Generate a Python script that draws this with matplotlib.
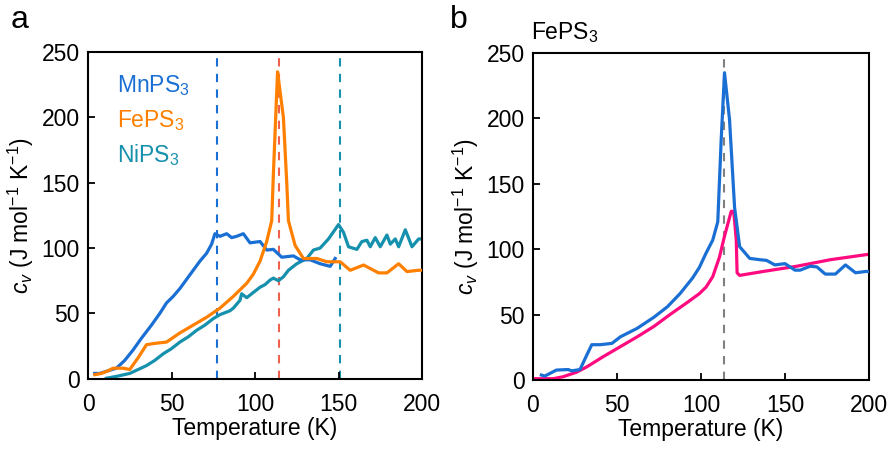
import matplotlib
matplotlib.use("Agg")
import matplotlib.pyplot as plt

plt.rcParams['font.family'] = ['Liberation Sans', 'DejaVu Sans']
plt.rcParams['mathtext.fontset'] = 'custom'
plt.rcParams['mathtext.rm'] = 'Liberation Sans'
plt.rcParams['mathtext.it'] = 'Liberation Sans:italic'
plt.rcParams['mathtext.bf'] = 'Liberation Sans:bold'

# Panel a data
mn_T = [4, 7, 12, 17, 22, 27, 32, 38, 43, 47, 51, 55, 59, 63, 67, 71, 74, 76, 79, 83, 86, 89, 93, 97, 103, 107, 111, 116, 123, 127, 133, 139, 145, 148]
mn_cv = [4, 4, 6, 8, 14, 22, 31, 41, 50, 58, 63, 69, 76, 83, 90, 96, 103, 111, 109, 111, 108, 109, 111, 104, 105, 98.5, 99, 93, 94, 91, 91, 88, 86, 92]

fe_T = [4, 8, 12, 15, 21, 25, 30, 35, 40, 47, 55, 63, 71, 79, 87, 95, 99, 103, 107, 110, 111, 113.5, 114.5, 117, 119, 120, 124, 129, 137, 143, 151, 157, 165, 174, 179, 186, 191, 198, 200]
fe_cv = [3, 4, 6, 8, 8, 7, 16, 26, 27, 28, 35, 41, 47, 54, 63, 73, 80, 90, 105, 121, 157, 235, 225, 200, 150, 121, 102, 92, 92, 89.5, 89.5, 83, 87, 81, 81, 88, 82, 83, 83]

ni_T = [11, 18, 25, 30, 35, 40, 45, 50, 55, 60, 65, 70, 75, 79, 85, 87, 91, 92, 95, 99, 103, 106, 109, 111, 114, 117, 120, 125, 131, 135, 139, 144, 150, 153, 156, 161, 164, 167, 169, 172, 175, 179, 181, 184, 186, 190, 194, 198, 200]
ni_cv = [0.3, 2, 4, 7, 10, 14, 19, 23, 28, 32, 37, 41, 46, 49, 52, 54, 60, 65, 62, 66, 70, 72, 75.5, 77, 75, 78, 83, 88, 92, 98.5, 100, 107, 118, 112, 101, 99, 105, 106, 101, 108, 101, 110, 103, 107, 101, 114, 101, 107, 107]

transitions_a = [77, 114.6, 151]

# Panel b data
b_blue_T = [5, 7, 14, 21, 23, 28, 32, 35, 40, 47, 52, 62, 72, 80, 87.5, 95, 99, 103, 107, 110, 112, 114, 117, 120, 123, 129, 135, 139, 144, 150, 156, 159, 165, 169, 174, 180, 186, 192, 198, 200]
b_blue_cv = [3.8, 3, 7.6, 8, 7, 8, 19, 27, 27, 28, 33, 39.5, 48, 56, 66, 78, 86, 97, 107, 121, 183, 235, 199, 132, 102, 93, 92, 91.5, 88, 89, 84, 84, 87, 86.5, 81, 81, 88, 82, 83, 83]

b_pink_T = [1, 12, 18, 26, 32, 42, 52, 62, 72, 81.5, 91.5, 99, 103, 107, 111, 114, 118, 119.5, 121, 121.5, 123, 137, 157, 177, 199]
b_pink_cv = [1, 1, 2.5, 6, 10, 18, 25.5, 33, 41, 50, 59, 66, 71, 79, 94, 110, 129, 129, 107, 82, 80, 83, 87, 92, 96]

transition_b = 114

c_blue = '#1a6fd4'
c_orange = '#ff8000'
c_teal = '#1590ad'
c_red = '#f0604f'
c_pink = '#ff0a7f'
c_grey = '#808080'

fig = plt.figure(figsize=(8.92, 4.54), dpi=100)
axa = fig.add_axes([0.0987, 0.166, 0.3744, 0.719])
axb = fig.add_axes([0.5975, 0.163, 0.3767, 0.720])

lw = 2.3
fs = 16.5

for ax in (axa, axb):
    ax.set_xlim(0, 200)
    ax.set_ylim(0, 250)
    ax.set_xticks([0, 50, 100, 150, 200])
    ax.set_yticks([0, 50, 100, 150, 200, 250])
    ax.tick_params(direction='in', length=5, width=1.3, labelsize=fs)
    ax.tick_params(axis='x', pad=10)
    ax.tick_params(axis='y', pad=6)
    for s in ax.spines.values():
        s.set_linewidth(1.5)
    ax.set_xlabel('Temperature (K)', fontsize=fs, labelpad=1)
    ax.set_ylabel('$c_v$ (J mol$^{-1}$ K$^{-1}$)', fontsize=fs, labelpad=4)

# Panel a
for xv, c in zip(transitions_a, [c_blue, c_red, c_teal]):
    axa.axvline(xv, color=c, ls=(0, (4, 3.5)), lw=1.5, zorder=1)
axa.plot(ni_T, ni_cv, color=c_teal, lw=lw, zorder=2)
axa.plot(mn_T, mn_cv, color=c_blue, lw=lw, zorder=3)
axa.plot(fe_T, fe_cv, color=c_orange, lw=lw, zorder=4)

axa.text(0.086, 0.899, 'MnPS$_3$', color=c_blue, fontsize=16.5, transform=axa.transAxes, va='center')
axa.text(0.086, 0.79, 'FePS$_3$', color=c_orange, fontsize=16.5, transform=axa.transAxes, va='center')
axa.text(0.086, 0.685, 'NiPS$_3$', color=c_teal, fontsize=16.5, transform=axa.transAxes, va='center')

# Panel b
axb.axvline(transition_b, color=c_grey, ls=(0, (4, 3.5)), lw=1.5, zorder=1)
axb.plot(b_pink_T, b_pink_cv, color=c_pink, lw=lw, zorder=2)
axb.plot(b_blue_T, b_blue_cv, color=c_blue, lw=lw, zorder=3)
axb.text(-0.005, 1.025, 'FePS$_3$', fontsize=16.5, transform=axb.transAxes, va='bottom', ha='left')

fig.text(0.012, 0.956, 'a', fontsize=23, va='center')
fig.text(0.504, 0.956, 'b', fontsize=23, va='center')

fig.savefig('out.png', dpi=100)
